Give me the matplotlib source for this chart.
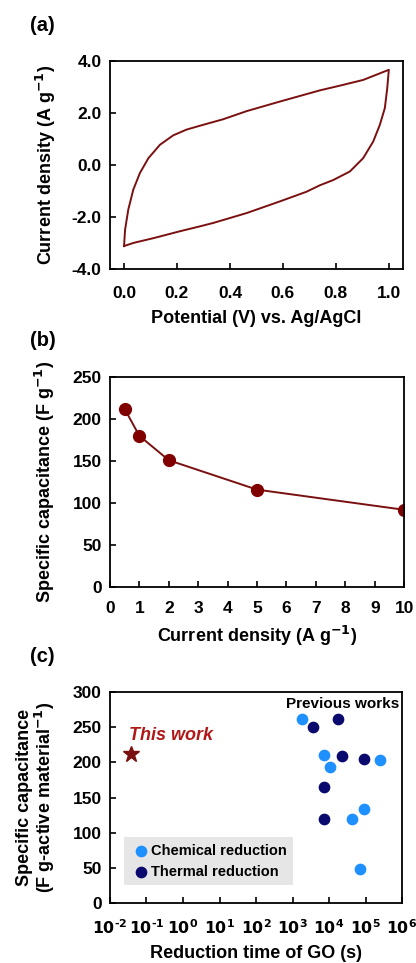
import math
import matplotlib
matplotlib.use("Agg")
import matplotlib.pyplot as plt
from matplotlib.ticker import FixedLocator, FuncFormatter

plt.rcParams['font.family'] = ['Liberation Sans', 'DejaVu Sans']
plt.rcParams['font.weight'] = 'bold'
plt.rcParams['axes.labelweight'] = 'bold'
plt.rcParams['axes.unicode_minus'] = False
plt.rcParams['mathtext.default'] = 'bf'

# (a) CV loop (forward then reverse sweep)
cv_v = [0.0, 0.004, 0.016, 0.035, 0.06, 0.092, 0.136, 0.186, 0.236, 0.287, 0.375,
        0.463, 0.589, 0.74, 0.815, 0.903, 1.0,
        0.994, 0.985, 0.966, 0.941, 0.903, 0.853, 0.79, 0.74, 0.689, 0.589, 0.463,
        0.337, 0.287, 0.211, 0.117, 0.035, 0.0]
cv_i = [-3.12, -2.49, -1.72, -0.95, -0.31, 0.26, 0.78, 1.14, 1.36, 1.51, 1.76,
        2.07, 2.44, 2.87, 3.05, 3.27, 3.66,
        2.95, 2.19, 1.54, 0.90, 0.26, -0.25, -0.58, -0.78, -1.03, -1.40, -1.85,
        -2.23, -2.36, -2.55, -2.80, -3.0, -3.12]

# (b) rate capability
cur_dens = [0.5, 1, 2, 5, 10]
spec_cap = [212, 180, 151, 116, 92]

# (c) comparison with previous works
this_t = [0.0376]
this_c = [212]
chem_t = [1780, 7250, 10700, 250000, 91000, 43500, 71000]
chem_c = [262, 210, 194, 203, 134, 119, 48]
therm_t = [3550, 18000, 22000, 91000, 7250, 7250]
therm_c = [250, 262, 209, 205, 165, 119]

dark_red = '#7a1010'
tfs = 12.5   # tick labels
lfs = 13     # axis labels

fig = plt.figure(figsize=(4.16, 9.63), dpi=100)

def style(ax):
    for s in ax.spines.values():
        s.set_linewidth(1.3)
    ax.tick_params(direction='in', length=4, width=1.2, labelsize=tfs, pad=6)

def pow_label(v, p):
    return r'$\mathbf{10^{\text{%d}}}$' % round(math.log10(v))

# ---- (a)
ax1 = fig.add_axes([0.2644, 0.7207, 0.704, 0.216])
ax1.plot(cv_v, cv_i, '-', color=dark_red, lw=1.4)
ax1.set_xlim(-0.053, 1.053)
ax1.set_ylim(-4, 4)
ax1.set_xticks([0, 0.2, 0.4, 0.6, 0.8, 1.0])
ax1.set_yticks([-4, -2, 0, 2, 4])
ax1.xaxis.set_major_formatter(FuncFormatter(lambda v, p: '%.1f' % v))
ax1.yaxis.set_major_formatter(FuncFormatter(lambda v, p: '%.1f' % v))
style(ax1)
ax1.tick_params(axis='x', pad=12)
ax1.set_xlabel('Potential (V) vs. Ag/AgCl', fontsize=lfs, labelpad=7)
ax1.set_ylabel('Current density (A g$^{-1}$)', fontsize=lfs, labelpad=10)
fig.text(0.072, 0.974, '(a)', fontsize=14.5, fontweight='bold', va='center')

# ---- (b)
ax2 = fig.add_axes([0.2644, 0.3904, 0.707, 0.218])
ax2.plot(cur_dens, spec_cap, '-o', color=dark_red, lw=1.4, ms=8.5,
         markerfacecolor='#800000', markeredgecolor='#800000')
ax2.set_xlim(0, 10)
ax2.set_ylim(0, 250)
ax2.set_xticks(range(0, 11))
ax2.set_yticks(range(0, 251, 50))
style(ax2)
ax2.tick_params(axis='x', pad=10)
ax2.set_xlabel('Current density (A g$^{-1}$)', fontsize=lfs, labelpad=6)
ax2.set_ylabel('Specific capacitance (F g$^{-1}$)', fontsize=lfs, labelpad=11)
fig.text(0.072, 0.646, '(b)', fontsize=14.5, fontweight='bold', va='center')

# ---- (c)
ax3 = fig.add_axes([0.2644, 0.0623, 0.702, 0.219])
ax3.set_xscale('log')
ch = ax3.scatter(chem_t, chem_c, s=55, color='#1e90ff', zorder=3, label='Chemical reduction')
th = ax3.scatter(therm_t, therm_c, s=55, color='#0a0a6e', zorder=3, label='Thermal reduction')
ax3.plot(this_t, this_c, '*', color=dark_red, ms=12, zorder=3)
ax3.text(0.033, 238, 'This work', color='#b01818', fontsize=13, fontstyle='italic',
         fontweight='bold', va='center')
ax3.text(0.99, 0.945, 'Previous works', transform=ax3.transAxes, fontsize=11,
         ha='right', va='center')
ax3.set_xlim(1e-2, 1e6)
ax3.set_ylim(0, 300)
ax3.xaxis.set_major_locator(FixedLocator([10.0 ** k for k in range(-2, 7)]))
ax3.xaxis.set_minor_locator(FixedLocator([]))
ax3.xaxis.set_major_formatter(FuncFormatter(pow_label))
ax3.set_yticks(range(0, 301, 50))
style(ax3)
ax3.tick_params(axis='x', pad=11, labelsize=11.3)
ax3.set_xlabel('Reduction time of GO (s)', fontsize=lfs, labelpad=6)
ax3.set_ylabel('Specific capacitance\n(F g-active material$^{-1}$)', fontsize=lfs,
               labelpad=11, linespacing=1.0)
leg = ax3.legend(handles=[ch, th], loc='lower left', bbox_to_anchor=(0.048, 0.085),
                 fontsize=10.5, frameon=True, handletextpad=0.0, borderpad=0.45,
                 labelspacing=0.45, handlelength=1.4, borderaxespad=0)
leg.get_frame().set_facecolor('#e6e6e6')
leg.get_frame().set_edgecolor('none')
leg.get_frame().set_alpha(1)
leg.get_frame().set_boxstyle('square', pad=0)
fig.text(0.072, 0.318, '(c)', fontsize=14.5, fontweight='bold', va='center')

fig.savefig('out.png', dpi=100)
